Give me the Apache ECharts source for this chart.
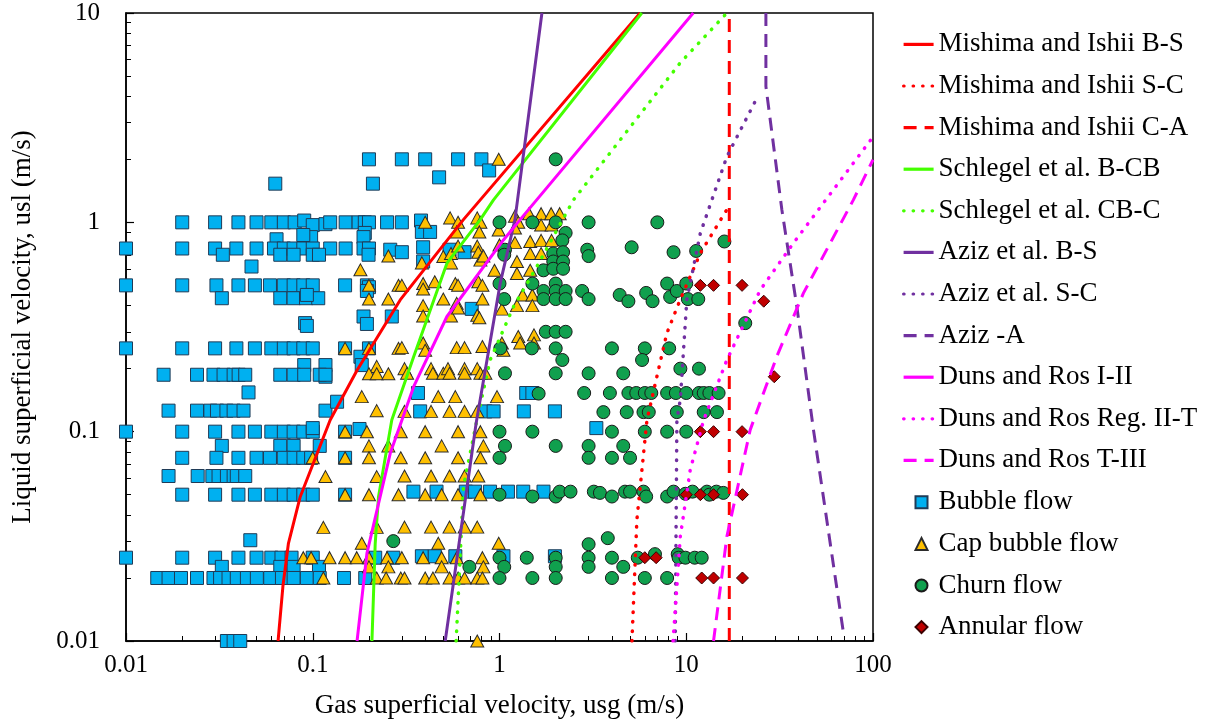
<!DOCTYPE html>
<html><head><meta charset="utf-8">
<script src="https://cdn.jsdelivr.net/npm/echarts@6/dist/echarts.min.js"></script>
<style>html,body{margin:0;padding:0;background:#fff}#c{width:1207px;height:727px}</style>
</head><body><div id="c"></div>
<script>
// ---------- axis ticks ----------
const xTickValues = [0.01, 0.1, 1, 10, 100];
const xTickLabels = ['0.01', '0.1', '1', '10', '100'];
const yTickValues = [0.01, 0.1, 1, 10];
const yTickLabels = ['0.01', '0.1', '1', '10'];
const xMinorTicks = [0.02,0.03,0.04,0.05,0.06,0.07,0.08,0.09,0.2,0.3,0.4,0.5,0.6,0.7,0.8,0.9,2,3,4,5,6,7,8,9,20,30,40,50,60,70,80,90];
const yMinorTicks = [0.02,0.03,0.04,0.05,0.06,0.07,0.08,0.09,0.2,0.3,0.4,0.5,0.6,0.7,0.8,0.9,2,3,4,5,6,7,8,9];

// ---------- transition lines [usg, usl] ----------
const mishimaBS = [[0.0652,0.01],[0.0692,0.0182],[0.0741,0.0293],[0.0857,0.0489],[0.124,0.1137],[0.173,0.197],[0.294,0.426],[0.641,1.03],[0.789,1.28],[5.66,10]];
const mishimaSC = [[5.12,0.01],[5.44,0.0379],[6.16,0.1137],[7.87,0.295],[9.27,0.426],[11.9,0.713],[16.5,1.15]];
const mishimaCA = [[17.0,0.01],[17.0,10]];
const schlegelBCB = [[0.2075,0.01],[0.216,0.0293],[0.225,0.0489],[0.265,0.1137],[0.347,0.228],[0.523,0.638],[0.789,1.03],[0.929,1.28],[5.78,10]];
const schlegelCBC = [[0.586,0.01],[0.641,0.0546],[0.757,0.1137],[0.891,0.22],[1.19,0.396],[1.585,0.615],[2.49,1.28],[9.27,5.77],[16.5,10]];
const azizBS = [[0.512,0.01],[0.75,0.11],[1.009,0.512],[1.21,1.03],[1.687,10]];
const azizSC = [[8.73,0.01],[8.91,0.1137],[9.29,0.142],[10.07,0.426],[11.9,0.888],[16.5,2.06],[24.4,4.07]];
const azizA = [[26.7,10],[26.7,4.46],[32.5,1.15],[39.1,0.396],[48.0,0.102],[69.5,0.0109]];
const dunsI_II = [[0.1727,0.01],[0.195,0.0262],[0.26,0.0788],[0.347,0.164],[0.523,0.355],[1.05,0.824],[1.29,1.03],[10.9,10]];
const dunsII_T = [[8.5,0.01],[8.91,0.0182],[9.29,0.0315],[10.5,0.0656],[12.4,0.1137],[16.5,0.22],[24.9,0.475],[37.5,0.796],[100,2.56]];
const dunsT_III = [[14.0,0.01],[16.5,0.0315],[22.0,0.102],[30.5,0.228],[42.4,0.459],[78.5,1.28],[100,1.99]];

// ---------- observed flow patterns [usg, usl] ----------
const bubbleFlow = [
[0.2,2],[0.3,2],[0.4,2],[0.6,2],[0.8,2],[0.063,1.53],[0.21,1.53],[0.475,1.64],[0.88,1.77],
[0.02,1],[0.03,1],[0.04,1],[0.05,1],[0.06,1],[0.07,1],[0.08,1],[0.09,1.02],[0.1,0.97],[0.117,0.98],[0.124,1],[0.15,1],[0.176,1],[0.19,1],[0.2,1],[0.25,1],[0.3,1],[0.38,1.02],
[0.064,0.83],[0.098,0.85],[0.089,0.87],[0.19,0.89],[0.187,0.85],[0.384,0.9],[0.425,0.9],
[0.01,0.75],[0.02,0.75],[0.03,0.75],[0.039,0.75],[0.05,0.75],[0.062,0.75],[0.07,0.75],[0.079,0.75],[0.089,0.75],[0.1,0.75],[0.124,0.75],[0.15,0.75],[0.187,0.75],[0.2,0.75],[0.26,0.74],[0.3,0.72],[0.39,0.76],[0.54,0.74],[0.65,0.72],
[0.033,0.7],[0.067,0.7],[0.079,0.7],[0.1,0.7],[0.108,0.7],[0.199,0.7],[0.39,0.65],[0.047,0.615],
[0.01,0.5],[0.02,0.5],[0.0305,0.5],[0.04,0.5],[0.049,0.5],[0.059,0.5],[0.07,0.5],[0.079,0.5],[0.089,0.5],[0.1,0.5],[0.149,0.5],[0.195,0.5],[0.2,0.49],
[0.0326,0.434],[0.067,0.434],[0.079,0.434],[0.092,0.434],[0.107,0.434],[0.195,0.47],[0.093,0.45],
[0.187,0.355],[0.195,0.327],[0.265,0.355],[0.091,0.33],[0.093,0.32],[0.71,0.386],
[0.01,0.25],[0.02,0.25],[0.03,0.25],[0.039,0.25],[0.049,0.25],[0.06,0.25],[0.07,0.25],[0.079,0.25],[0.089,0.25],[0.1,0.25],[0.149,0.25],[0.2,0.25],
[0.18,0.228],[0.183,0.208],[0.09,0.208],[0.117,0.208],[0.117,0.183],
[0.0159,0.187],[0.024,0.187],[0.0294,0.187],[0.0333,0.187],[0.0377,0.187],[0.0401,0.187],[0.0435,0.187],[0.067,0.187],[0.079,0.187],[0.09,0.187],[0.109,0.187],[0.117,0.187],[0.0453,0.154],
[0.0169,0.126],[0.024,0.126],[0.0283,0.126],[0.0307,0.126],[0.0345,0.126],[0.0377,0.126],[0.0426,0.126],[0.117,0.126],[0.135,0.139],
[0.366,0.153],[0.376,0.125],[0.84,0.125],[0.93,0.125],[1.35,0.125],[1.98,0.125],[1.39,0.153],[1.5,0.153],
[0.01,0.1],[0.02,0.1],[0.03,0.1],[0.04,0.1],[0.049,0.1],[0.06,0.1],[0.07,0.1],[0.079,0.1],[0.089,0.1],[0.1,0.1],[0.149,0.1],[0.1,0.104],[0.178,0.103],[3.3,0.104],
[0.0326,0.0855],[0.067,0.0855],[0.079,0.0855],[0.109,0.0855],
[0.02,0.075],[0.0305,0.075],[0.04,0.075],[0.05,0.075],[0.059,0.075],[0.07,0.075],[0.079,0.075],[0.089,0.075],[0.098,0.075],[0.149,0.075],
[0.0169,0.0614],[0.0242,0.0614],[0.029,0.0614],[0.0313,0.0614],[0.0347,0.0614],[0.0377,0.0614],[0.0392,0.0614],[0.0435,0.0614],
[0.02,0.05],[0.03,0.05],[0.04,0.05],[0.049,0.05],[0.06,0.05],[0.07,0.05],[0.079,0.05],[0.089,0.05],[0.1,0.05],[0.149,0.05],
[0.346,0.0517],[0.46,0.0517],[0.66,0.0517],[0.74,0.0517],[0.89,0.0517],[1.11,0.0517],[1.34,0.0517],[1.72,0.0517],[0.0463,0.0303],
[0.01,0.025],[0.02,0.025],[0.03,0.025],[0.04,0.025],[0.05,0.025],[0.06,0.025],[0.068,0.025],[0.077,0.025],[0.1,0.025],[0.216,0.025],[0.27,0.025],
[0.384,0.0254],[0.45,0.0254],[0.58,0.0254],[1.05,0.0254],[1.98,0.0254],
[0.0326,0.0226],[0.067,0.0226],[0.079,0.0226],[0.108,0.0226],
[0.0147,0.02],[0.0169,0.02],[0.0197,0.02],[0.024,0.02],[0.0294,0.02],[0.0319,0.02],[0.0354,0.02],[0.0392,0.02],[0.0444,0.02],[0.0502,0.02],[0.0592,0.02],[0.0684,0.02],[0.079,0.02],[0.093,0.02],[0.109,0.02],[0.147,0.02],[0.191,0.02],
[0.0347,0.01],[0.0377,0.01],[0.0409,0.01]
];
const capBubbleFlow = [
[0.99,2.0],
[0.4,1.0],[0.544,1.05],[0.6,1.0],[0.59,0.9],[0.76,1.05],[0.79,1.0],[0.78,0.9],[0.99,0.92],[1.21,1.07],[1.26,1.0],[1.21,0.94],[1.44,1.1],[1.67,1.1],[1.67,0.97],[1.89,1.1],[1.9,0.97],[2.1,1.1],
[0.254,0.69],[0.384,0.64],[0.5,0.687],[0.55,0.71],[0.55,0.64],[0.6,0.77],[0.76,0.77],[0.77,0.72],[0.79,0.66],[0.82,0.69],[1.0,0.78],[0.94,0.59],[1.21,0.8],[1.24,0.65],[1.24,0.57],[1.46,0.81],[1.46,0.71],[1.46,0.59],[1.67,0.82],[1.67,0.71],[1.9,0.82],
[0.18,0.593],[0.2,0.5],[0.2,0.43],[0.254,0.43],[0.288,0.5],
[0.39,0.51],[0.39,0.48],[0.45,0.52],[0.58,0.51],[0.6,0.5],[0.77,0.52],[0.81,0.5],[0.3,0.5],
[0.39,0.4],[0.39,0.357],[0.5,0.43],[0.55,0.357],[0.59,0.41],[0.6,0.39],[0.76,0.36],[0.78,0.35],[0.81,0.43],[1.03,0.385],[1.24,0.4],[1.33,0.45],[1.5,0.45],[1.5,0.4],
[0.149,0.25],[0.2,0.25],[0.288,0.25],[0.3,0.252],[0.39,0.265],[0.4,0.245],[0.59,0.252],[0.65,0.252],[0.81,0.255],[1.03,0.265],[1.05,0.245],[1.26,0.285],[1.29,0.265],[1.53,0.29],[1.53,0.265],
[0.22,0.205],[0.2,0.189],[0.22,0.189],[0.254,0.189],
[0.31,0.2],[0.32,0.19],[0.43,0.2],[0.44,0.19],[0.5,0.19],[0.53,0.2],[0.54,0.19],[0.65,0.2],[0.65,0.19],[0.76,0.2],[0.79,0.19],[0.84,0.19],
[0.183,0.147],[0.47,0.147],[0.58,0.147],[0.97,0.147],
[0.22,0.126],[0.31,0.125],[0.43,0.125],[0.54,0.125],[0.65,0.125],[0.76,0.125],
[0.149,0.1],[0.195,0.1],[0.296,0.1],[0.4,0.1],[0.6,0.1],[0.79,0.1],
[0.2,0.0855],[0.254,0.0855],[0.49,0.0855],[0.82,0.0855],
[0.1,0.075],[0.149,0.075],[0.2,0.075],[0.296,0.075],[0.4,0.075],[0.6,0.075],[0.79,0.075],
[0.117,0.061],[0.22,0.061],[0.31,0.0614],[0.43,0.0614],[0.54,0.0614],[0.65,0.0614],[0.77,0.0614],
[0.149,0.05],[0.2,0.05],[0.288,0.05],[0.4,0.05],[0.49,0.05],[0.6,0.05],[0.79,0.05],
[0.114,0.0349],[0.22,0.0349],[0.31,0.035],[0.43,0.035],[0.54,0.035],[0.65,0.035],[0.76,0.035],
[0.183,0.0293],[0.47,0.0293],[0.99,0.0293],
[0.089,0.025],[0.098,0.025],[0.123,0.025],[0.149,0.025],[0.172,0.025],[0.2,0.025],[0.25,0.025],[0.3,0.025],[0.39,0.025],[0.49,0.025],[0.59,0.025],[0.81,0.025],
[0.2,0.0226],[0.254,0.0226],[0.49,0.0226],[0.82,0.0226],
[0.114,0.02],[0.22,0.02],[0.247,0.02],[0.296,0.02],[0.31,0.02],[0.4,0.02],[0.44,0.02],[0.54,0.02],[0.6,0.02],[0.65,0.02],[0.76,0.02],[0.81,0.02],
[0.76,0.01]
];
const churnFlow = [
[2.0,2.0],
[1.0,1.0],[1.5,1.0],[2.0,1.0],[2.26,0.89],[2.17,0.82],[3.0,1.0],[7.0,1.0],
[1.07,0.74],[1.06,0.7],[1.94,0.71],[2.19,0.72],[1.94,0.65],[2.19,0.65],[1.72,0.59],[1.94,0.6],[2.19,0.6],[2.95,0.74],[3.0,0.69],[5.1,0.76],[8.55,0.72],[11.3,0.73],[16.0,0.81],
[1.0,0.51],[1.5,0.51],[2.0,0.51],[1.72,0.47],[2.0,0.47],[2.26,0.47],[1.72,0.43],[2.0,0.43],[2.26,0.43],[1.06,0.43],[2.77,0.47],[3.0,0.43],[4.4,0.45],[4.9,0.42],[6.1,0.46],[6.6,0.42],[7.9,0.51],[8.2,0.44],[8.9,0.47],[10,0.51],[10.2,0.43],[11.6,0.43],
[1.77,0.3],[2.0,0.3],[2.26,0.3],[20.7,0.33],
[1.01,0.25],[1.49,0.25],[2.0,0.25],[4.0,0.25],[6.0,0.25],[8.1,0.25],
[2.17,0.22],[5.8,0.22],
[1.07,0.19],[2.0,0.19],[3.0,0.19],[4.6,0.19],[9.3,0.2],[11.7,0.2],
[1.62,0.152],[2.84,0.153],[3.9,0.153],[4.9,0.153],[5.4,0.153],[6.0,0.153],[6.5,0.153],[7.9,0.153],[8.8,0.153],[10.0,0.153],[11.7,0.153],[12.4,0.153],[13.3,0.153],[14.9,0.153],
[3.6,0.124],[4.8,0.124],[5.9,0.124],[6.3,0.124],[8.9,0.124],[12.4,0.124],[14.6,0.124],
[1.0,0.1],[1.5,0.1],[4.0,0.1],[6.0,0.1],[7.9,0.1],[10.0,0.1],
[1.07,0.0855],[2.0,0.0855],[3.0,0.0855],[4.6,0.0855],
[1.0,0.075],[3.0,0.075],[4.0,0.075],[5.0,0.075],
[1.0,0.05],[1.5,0.049],[2.0,0.049],[2.1,0.0517],[2.4,0.0517],[3.2,0.0517],[3.45,0.051],[4.0,0.049],[4.7,0.0517],[5.0,0.0517],[5.9,0.0517],[6.1,0.049],[7.9,0.049],[8.55,0.0517],[9.9,0.0505],[10.8,0.0517],[12.9,0.0517],[13.3,0.05],[14.5,0.0517],[15.8,0.051],
[0.27,0.03],[3.8,0.031],
[1.0,0.025],[1.4,0.025],[2.0,0.025],[3.0,0.029],[3.0,0.025],[4.0,0.025],[5.5,0.025],[6.8,0.026],[9.0,0.026],[9.1,0.025],[9.9,0.025],[11.1,0.025],[12.1,0.025],
[0.69,0.0226],[1.06,0.0226],[2.0,0.0226],[3.0,0.0226],[4.6,0.0226],
[1.0,0.02],[1.5,0.02],[2.0,0.02],[4.0,0.02],[6.0,0.02],[7.9,0.02]
];
const annularFlow = [
[11.9,0.5],[14.0,0.5],[19.9,0.5],[26.0,0.42],[29.6,0.183],
[11.9,0.1],[14.0,0.1],[19.9,0.1],
[10,0.05],[11.9,0.05],[14.0,0.05],[20,0.05],
[6.0,0.025],[6.9,0.025],
[12.1,0.02],[14.0,0.02],[20,0.02]
];

// ---------- styling ----------
const FONT = 'Liberation Serif';
const RED = '#FF0000', GREEN = '#44FF00', PURPLE = '#7030A0', MAGENTA = '#FF00FF';
const SOLID = 'solid', DOT = [0.5, 9], DASH = [13, 8];

function lineSeries(name, data, color, dash) {
  return {
    type: 'line', name: name, data: data, symbol: 'none', showSymbol: false, z: 4, clip: true, silent: true,
    lineStyle: { color: color, width: dash === DOT ? 3.5 : 3, type: dash, cap: dash === DOT ? 'round' : 'butt' },
    itemStyle: { color: color }
  };
}
function scatterSeries(name, data, symbol, size, fill, border, z) {
  return {
    type: 'scatter', name: name, data: data, symbol: symbol, symbolSize: size, z: z, silent: true,
    itemStyle: { color: fill, borderColor: border, borderWidth: 1, opacity: 1 }
  };
}
function tickFmt(values, labels) {
  return function (v) {
    for (let i = 0; i < values.length; i++) {
      if (Math.abs(Math.log10(values[i]) - Math.log10(v)) < 1e-6) return labels[i];
    }
    return '';
  };
}

const lineDefs = [
  ['Mishima and Ishii B-S', mishimaBS, RED, SOLID],
  ['Mishima and Ishii S-C', mishimaSC, RED, DOT],
  ['Mishima and Ishii C-A', mishimaCA, RED, DASH],
  ['Schlegel et al. B-CB', schlegelBCB, GREEN, SOLID],
  ['Schlegel et al. CB-C', schlegelCBC, GREEN, DOT],
  ['Aziz et al. B-S', azizBS, PURPLE, SOLID],
  ['Aziz et al. S-C', azizSC, PURPLE, DOT],
  ['Aziz -A', azizA, PURPLE, DASH],
  ['Duns and Ros I-II', dunsI_II, MAGENTA, SOLID],
  ['Duns and Ros Reg. II-T', dunsII_T, MAGENTA, DOT],
  ['Duns and Ros T-III', dunsT_III, MAGENTA, DASH]
];
const scatterNames = ['Bubble flow', 'Cap bubble flow', 'Churn flow', 'Annular flow'];

const series = [
  scatterSeries(scatterNames[0], bubbleFlow, 'rect', 13, '#00B0F0', '#1F3B57', 2),
  scatterSeries(scatterNames[1], capBubbleFlow, 'triangle', [13, 12], '#FFC000', '#2b2b2b', 2),
  scatterSeries(scatterNames[2], churnFlow, 'circle', 13, '#10A04E', '#1a1a1a', 2),
  scatterSeries(scatterNames[3], annularFlow, 'diamond', 12, '#C00000', '#3a0000', 2)
].concat(lineDefs.map(d => lineSeries(d[0], d[1], d[2], d[3])));

const textBase = { fontFamily: FONT, color: '#000' };

const option = {
  animation: false,
  backgroundColor: '#fff',
  grid: { left: 126, right: 334, top: 13, bottom: 86, show: true, borderColor: '#000', borderWidth: 1.5, backgroundColor: 'transparent' },
  legend: [
    {
      orient: 'vertical', left: 897, top: 25.4, itemWidth: 30, itemHeight: 14, itemGap: 13.6,
      data: lineDefs.map(d => d[0]), selectedMode: false,
      itemStyle: { opacity: 0, borderWidth: 0 },
      lineStyle: { width: 3.2 },
      textStyle: Object.assign({ fontSize: 27, lineHeight: 28 }, textBase)
    },
    {
      orient: 'vertical', left: 909.5, top: 483.3, itemWidth: 12, itemHeight: 12, itemGap: 13.6,
      data: scatterNames, selectedMode: false,
      textStyle: Object.assign({ fontSize: 27, lineHeight: 28, padding: [0, 0, 0, 6] }, textBase)
    }
  ],
  xAxis: [
    {
      type: 'log', logBase: 10, min: 0.01, max: 100, gridIndex: 0,
      name: 'Gas superficial velocity, usg (m/s)', nameLocation: 'middle', nameGap: 51,
      nameTextStyle: Object.assign({ fontSize: 27 }, textBase),
      axisLine: { show: true, lineStyle: { color: '#000', width: 1.5 } },
      axisTick: { show: true, inside: true, length: 8, customValues: xTickValues, lineStyle: { color: '#000', width: 1.2 } },
      axisLabel: Object.assign({ fontSize: 25, margin: 12, customValues: xTickValues, formatter: tickFmt(xTickValues, xTickLabels) }, textBase),
      splitLine: { show: false }, minorTick: { show: false }
    },
    {
      type: 'log', logBase: 10, min: 0.01, max: 100, gridIndex: 0, position: 'bottom',
      axisLine: { show: false },
      axisTick: { show: true, inside: true, length: 5, customValues: xMinorTicks, lineStyle: { color: '#000', width: 1 } },
      axisLabel: { show: false }, splitLine: { show: false }
    }
  ],
  yAxis: [
    {
      type: 'log', logBase: 10, min: 0.01, max: 10, gridIndex: 0,
      name: 'Liquid superficial velocity, usl (m/s)', nameLocation: 'middle', nameGap: 90,
      nameTextStyle: Object.assign({ fontSize: 27 }, textBase),
      axisLine: { show: true, lineStyle: { color: '#000', width: 1.5 } },
      axisTick: { show: true, inside: true, length: 8, customValues: yTickValues, lineStyle: { color: '#000', width: 1.2 } },
      axisLabel: Object.assign({ fontSize: 25, margin: 26, customValues: yTickValues, formatter: tickFmt(yTickValues, yTickLabels) }, textBase),
      splitLine: { show: false }
    },
    {
      type: 'log', logBase: 10, min: 0.01, max: 10, gridIndex: 0, position: 'left', offset: 0,
      axisLine: { show: false },
      axisTick: { show: true, inside: true, length: 5, customValues: yMinorTicks, lineStyle: { color: '#000', width: 1 } },
      axisLabel: { show: false }, splitLine: { show: false }
    }
  ],
  series: series
};

const chart = echarts.init(document.getElementById('c'), null, { renderer: 'canvas' });
chart.setOption(option);
</script>
</body></html>
